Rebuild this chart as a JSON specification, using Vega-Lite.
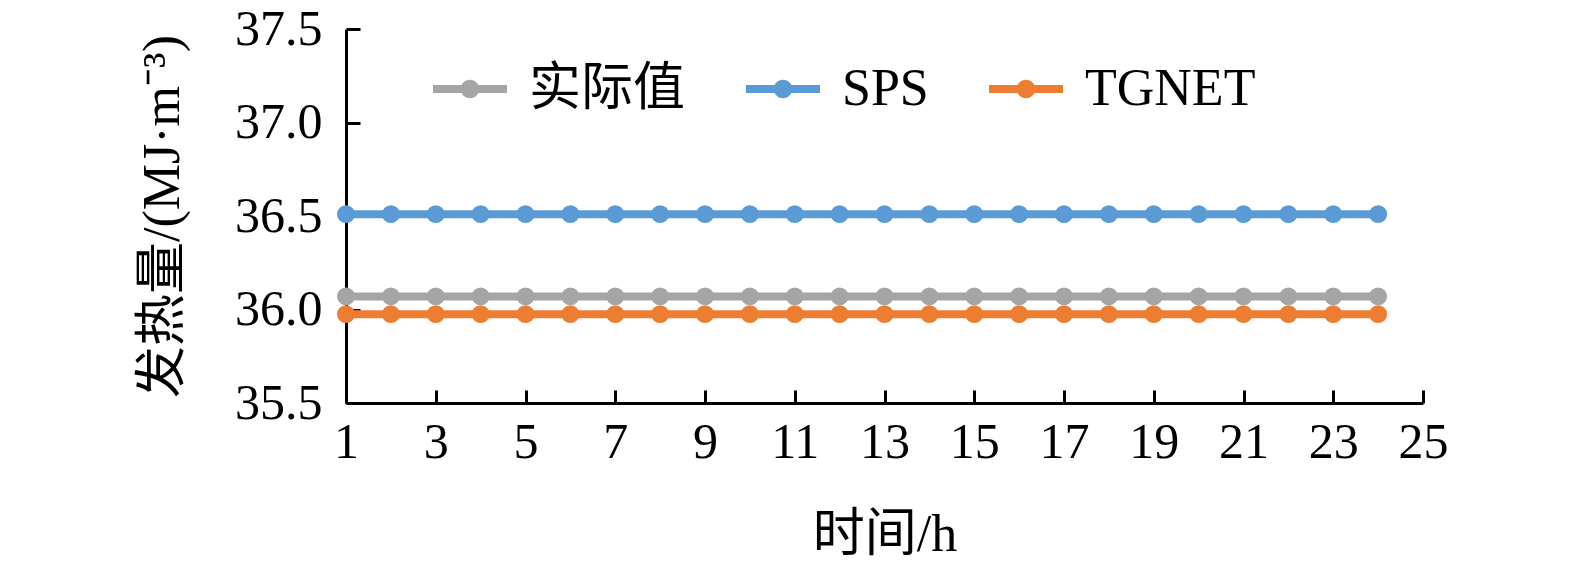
{
  "$schema": "https://vega.github.io/schema/vega-lite/v6.json",
  "autosize": "none",
  "width": 1077,
  "height": 374,
  "padding": {"left": 346, "top": 29, "right": 152, "bottom": 165},
  "background": "white",
  "config": {
    "view": {"stroke": null},
    "font": "Liberation Serif",
    "axis": {
      "labelFont": "Liberation Serif",
      "titleFont": "Liberation Serif, Noto Sans CJK SC",
      "labelColor": "black",
      "titleColor": "black",
      "domainColor": "black",
      "tickColor": "black",
      "domainWidth": 3,
      "tickWidth": 3,
      "grid": false,
      "labelFontSize": 50,
      "titleFontSize": 52,
      "titleFontWeight": "normal"
    },
    "legend": {
      "labelFont": "Liberation Serif, Noto Sans CJK SC",
      "labelFontSize": 52,
      "labelColor": "black",
      "labelLimit": 0
    }
  },
  "data": {
    "values": [
      {"h": 1, "s": "实际值", "v": 36.07}, {"h": 2, "s": "实际值", "v": 36.07}, {"h": 3, "s": "实际值", "v": 36.07}, {"h": 4, "s": "实际值", "v": 36.07},
      {"h": 5, "s": "实际值", "v": 36.07}, {"h": 6, "s": "实际值", "v": 36.07}, {"h": 7, "s": "实际值", "v": 36.07}, {"h": 8, "s": "实际值", "v": 36.07},
      {"h": 9, "s": "实际值", "v": 36.07}, {"h": 10, "s": "实际值", "v": 36.07}, {"h": 11, "s": "实际值", "v": 36.07}, {"h": 12, "s": "实际值", "v": 36.07},
      {"h": 13, "s": "实际值", "v": 36.07}, {"h": 14, "s": "实际值", "v": 36.07}, {"h": 15, "s": "实际值", "v": 36.07}, {"h": 16, "s": "实际值", "v": 36.07},
      {"h": 17, "s": "实际值", "v": 36.07}, {"h": 18, "s": "实际值", "v": 36.07}, {"h": 19, "s": "实际值", "v": 36.07}, {"h": 20, "s": "实际值", "v": 36.07},
      {"h": 21, "s": "实际值", "v": 36.07}, {"h": 22, "s": "实际值", "v": 36.07}, {"h": 23, "s": "实际值", "v": 36.07}, {"h": 24, "s": "实际值", "v": 36.07},
      {"h": 1, "s": "SPS", "v": 36.51}, {"h": 2, "s": "SPS", "v": 36.51}, {"h": 3, "s": "SPS", "v": 36.51}, {"h": 4, "s": "SPS", "v": 36.51},
      {"h": 5, "s": "SPS", "v": 36.51}, {"h": 6, "s": "SPS", "v": 36.51}, {"h": 7, "s": "SPS", "v": 36.51}, {"h": 8, "s": "SPS", "v": 36.51},
      {"h": 9, "s": "SPS", "v": 36.51}, {"h": 10, "s": "SPS", "v": 36.51}, {"h": 11, "s": "SPS", "v": 36.51}, {"h": 12, "s": "SPS", "v": 36.51},
      {"h": 13, "s": "SPS", "v": 36.51}, {"h": 14, "s": "SPS", "v": 36.51}, {"h": 15, "s": "SPS", "v": 36.51}, {"h": 16, "s": "SPS", "v": 36.51},
      {"h": 17, "s": "SPS", "v": 36.51}, {"h": 18, "s": "SPS", "v": 36.51}, {"h": 19, "s": "SPS", "v": 36.51}, {"h": 20, "s": "SPS", "v": 36.51},
      {"h": 21, "s": "SPS", "v": 36.51}, {"h": 22, "s": "SPS", "v": 36.51}, {"h": 23, "s": "SPS", "v": 36.51}, {"h": 24, "s": "SPS", "v": 36.51},
      {"h": 1, "s": "TGNET", "v": 35.975}, {"h": 2, "s": "TGNET", "v": 35.975}, {"h": 3, "s": "TGNET", "v": 35.975}, {"h": 4, "s": "TGNET", "v": 35.975},
      {"h": 5, "s": "TGNET", "v": 35.975}, {"h": 6, "s": "TGNET", "v": 35.975}, {"h": 7, "s": "TGNET", "v": 35.975}, {"h": 8, "s": "TGNET", "v": 35.975},
      {"h": 9, "s": "TGNET", "v": 35.975}, {"h": 10, "s": "TGNET", "v": 35.975}, {"h": 11, "s": "TGNET", "v": 35.975}, {"h": 12, "s": "TGNET", "v": 35.975},
      {"h": 13, "s": "TGNET", "v": 35.975}, {"h": 14, "s": "TGNET", "v": 35.975}, {"h": 15, "s": "TGNET", "v": 35.975}, {"h": 16, "s": "TGNET", "v": 35.975},
      {"h": 17, "s": "TGNET", "v": 35.975}, {"h": 18, "s": "TGNET", "v": 35.975}, {"h": 19, "s": "TGNET", "v": 35.975}, {"h": 20, "s": "TGNET", "v": 35.975},
      {"h": 21, "s": "TGNET", "v": 35.975}, {"h": 22, "s": "TGNET", "v": 35.975}, {"h": 23, "s": "TGNET", "v": 35.975}, {"h": 24, "s": "TGNET", "v": 35.975}
    ]
  },
  "encoding": {
    "x": {
      "field": "h", "type": "quantitative",
      "scale": {"domain": [1, 25], "nice": false, "zero": false},
      "axis": {
        "values": [1, 3, 5, 7, 9, 11, 13, 15, 17, 19, 21, 23, 25],
        "tickSize": -13,
        "labelPadding": 27,
        "labelFlush": false,
        "labelOverlap": false,
        "title": "时间/h",
        "titlePadding": 42
      }
    },
    "y": {
      "field": "v", "type": "quantitative",
      "scale": {"domain": [35.5, 37.5], "nice": false, "zero": false},
      "axis": {
        "values": [35.5, 36.0, 36.5, 37.0, 37.5],
        "format": ".1f",
        "tickSize": -14,
        "labelPadding": 38,
        "labelFlush": false,
        "labelOverlap": false,
        "title": "发热量/(MJ·m⁻³)",
        "titlePadding": 45
      }
    },
    "color": {
      "field": "s", "type": "nominal",
      "scale": {"domain": ["实际值", "SPS", "TGNET"], "range": ["#A5A5A5", "#5B9BD5", "#ED7D31"]},
      "legend": {
        "title": null,
        "orient": "none",
        "direction": "horizontal",
        "legendX": 87,
        "legendY": 23,
        "symbolType": "M-1,-0.11 L1,-0.11 L1,0.11 L-1,0.11 Z M-0.25,0 A0.25,0.25 0 1,1 0.25,0 A0.25,0.25 0 1,1 -0.25,0 Z",
        "symbolSize": 5476,
        "symbolStrokeWidth": 0,
        "labelOffset": 22,
        "columnPadding": 60,
        "symbolLimit": 3,
        "labelLimit": 0,
        "encode": {
          "symbols": {"update": {"fill": {"scale": "color", "field": "value"}, "strokeWidth": {"value": 0}, "opacity": {"value": 1}}}
        }
      }
    }
  },
  "layer": [
    {"mark": {"type": "line", "strokeWidth": 8}},
    {"mark": {"type": "point", "filled": true, "size": 320, "opacity": 1}}
  ]
}
